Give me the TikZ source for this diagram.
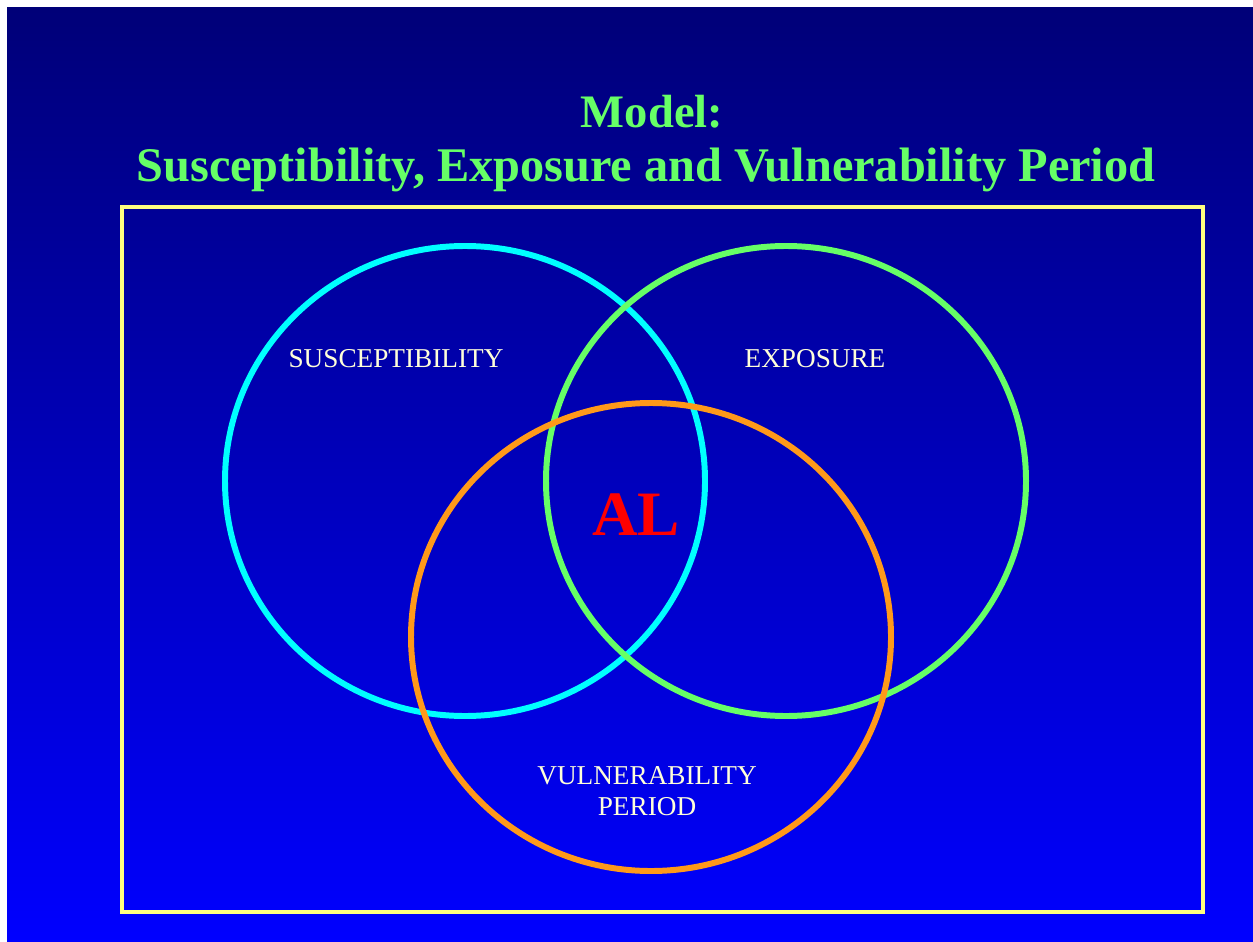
\documentclass[tikz,border=0pt]{standalone}
\usepackage{fontspec}
\setmainfont{Liberation Serif}
\usepackage{tikz}
\usetikzlibrary{positioning}
\definecolor{navy}{rgb}{0,0,0.47}
\definecolor{brightblue}{rgb}{0,0,1}
\definecolor{paleyellow}{rgb}{1,1,0.5}
\definecolor{lightgreen}{rgb}{0.4,1,0.4}
\definecolor{skyline}{rgb}{0,1,1}
\definecolor{tangerine}{rgb}{1,0.6,0.1}
\definecolor{cream}{rgb}{1,1,0.85}

\begin{document}
\begin{tikzpicture}[line cap=round,line join=round,x=0.02cm,y=-0.02cm]
\useasboundingbox (0,0) rectangle (1253,942);
% Hintergrund
\shade[top color=navy,bottom color=brightblue] (7,8) rectangle (1253,942);
\draw[color=paleyellow,line width=2.8pt,line cap=butt,line join=miter] (122,207) rectangle (1203,912);

% Titel
\node[color=lightgreen,font=\fontsize{26.5}{30}\selectfont\bfseries] (title1) at (652,112) {Model:};
\node[color=lightgreen,font=\fontsize{27.5}{30}\selectfont\bfseries] (title2) at (646,170) {Susceptibility, Exposure and Vulnerability Period};

% Die drei Kreise
\draw[color=skyline,line width=3.4pt] (465,481) ellipse (240 and 235);
\draw[color=lightgreen,line width=3.4pt] (786,481) ellipse (240 and 235);
\draw[color=tangerine,line width=3.4pt] (651,637) ellipse (240 and 234);

% Beschriftungen
\node[color=cream,font=\fontsize{15.5}{16}\selectfont] (susc) at (396,359) {SUSCEPTIBILITY};
\node[color=cream,font=\fontsize{15.5}{16}\selectfont] (expo) at (815,359) {EXPOSURE};
\node[color=cream,font=\fontsize{15.5}{18}\selectfont,align=center] (vuln) at (647,791) {VULNERABILITY\\PERIOD};
\node[color=red,font=\fontsize{36}{40}\selectfont\bfseries] (al) at (636,515) {AL};
\end{tikzpicture}
\end{document}
